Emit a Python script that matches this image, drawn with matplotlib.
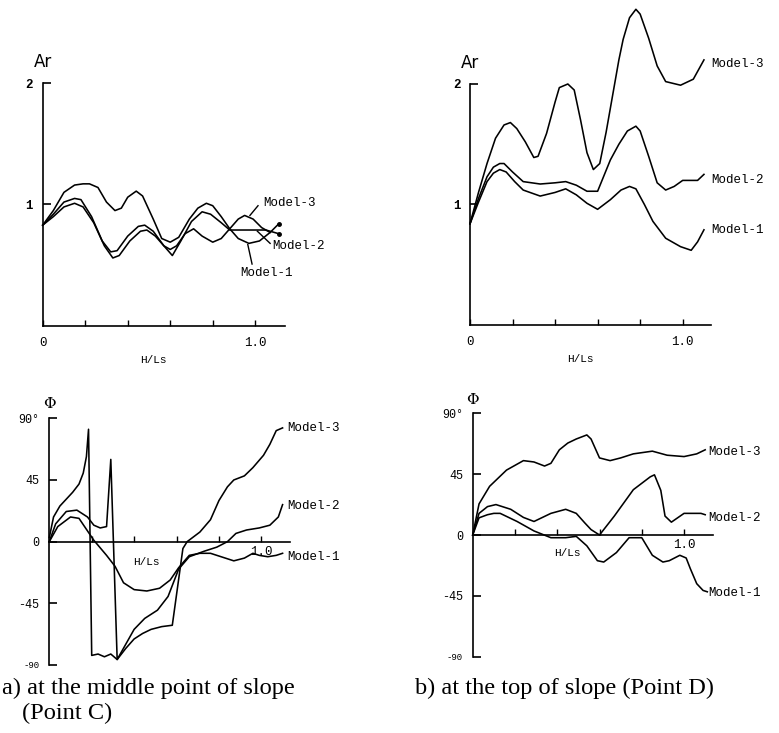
import matplotlib
matplotlib.use("Agg")
import matplotlib.pyplot as plt

W, H = 779, 733
fig = plt.figure(figsize=(W / 100, H / 100), dpi=100)
fig.patch.set_facecolor("white")

MONO = "Liberation Mono"
SERIF = "Liberation Serif"

# ---------------- data ----------------
# a) amplitude ratio, middle point of slope (Point C)
ac_m3_x = [0, 0.05, 0.10, 0.15, 0.19, 0.22, 0.26, 0.30, 0.34, 0.37, 0.40, 0.44, 0.47, 0.52, 0.56, 0.60, 0.64, 0.69, 0.73, 0.77, 0.80, 0.84, 0.88, 0.92, 0.97, 1.02, 1.07, 1.11]
ac_m3_y = [0.83, 0.95, 1.10, 1.16, 1.17, 1.17, 1.14, 1.02, 0.95, 0.97, 1.06, 1.11, 1.07, 0.88, 0.72, 0.69, 0.73, 0.88, 0.97, 1.01, 0.99, 0.90, 0.80, 0.72, 0.68, 0.70, 0.77, 0.84]
ac_m2_x = [0, 0.05, 0.10, 0.15, 0.18, 0.23, 0.28, 0.32, 0.35, 0.40, 0.45, 0.48, 0.52, 0.57, 0.61, 0.65, 0.70, 0.75, 0.79, 0.84, 0.88, 0.95, 1.05, 1.11]
ac_m2_y = [0.83, 0.92, 1.02, 1.05, 1.04, 0.90, 0.70, 0.61, 0.62, 0.74, 0.82, 0.83, 0.78, 0.66, 0.58, 0.70, 0.86, 0.94, 0.92, 0.85, 0.79, 0.79, 0.79, 0.76]
ac_m1_x = [0, 0.05, 0.10, 0.15, 0.19, 0.24, 0.29, 0.33, 0.36, 0.41, 0.46, 0.49, 0.53, 0.57, 0.60, 0.63, 0.67, 0.71, 0.75, 0.80, 0.84, 0.88, 0.92, 0.95, 0.99, 1.03, 1.07]
ac_m1_y = [0.83, 0.90, 0.98, 1.01, 0.98, 0.85, 0.66, 0.56, 0.58, 0.70, 0.78, 0.79, 0.74, 0.66, 0.63, 0.66, 0.76, 0.80, 0.74, 0.69, 0.72, 0.80, 0.88, 0.91, 0.88, 0.81, 0.77]

# b) amplitude ratio, top of slope (Point D)
ad_m3_x = [0, 0.04, 0.08, 0.12, 0.16, 0.19, 0.22, 0.26, 0.30, 0.32, 0.36, 0.40, 0.42, 0.46, 0.49, 0.52, 0.55, 0.58, 0.61, 0.64, 0.67, 0.70, 0.72, 0.75, 0.78, 0.80, 0.84, 0.88, 0.92, 0.99, 1.05, 1.10]
ad_m3_y = [0.84, 1.10, 1.34, 1.55, 1.66, 1.68, 1.63, 1.52, 1.39, 1.40, 1.59, 1.85, 1.97, 2.00, 1.95, 1.70, 1.43, 1.29, 1.34, 1.60, 1.90, 2.20, 2.37, 2.55, 2.62, 2.58, 2.38, 2.15, 2.02, 1.99, 2.04, 2.20]
ad_m2_x = [0, 0.04, 0.08, 0.11, 0.14, 0.16, 0.20, 0.25, 0.33, 0.40, 0.45, 0.50, 0.55, 0.60, 0.66, 0.70, 0.74, 0.78, 0.80, 0.84, 0.88, 0.92, 0.96, 1.00, 1.07, 1.10]
ad_m2_y = [0.84, 1.05, 1.23, 1.31, 1.34, 1.34, 1.27, 1.19, 1.17, 1.18, 1.19, 1.16, 1.11, 1.11, 1.37, 1.50, 1.61, 1.65, 1.61, 1.40, 1.18, 1.12, 1.15, 1.20, 1.20, 1.25]
ad_m1_x = [0, 0.04, 0.08, 0.11, 0.14, 0.17, 0.21, 0.25, 0.33, 0.40, 0.45, 0.50, 0.55, 0.60, 0.66, 0.71, 0.75, 0.78, 0.82, 0.86, 0.92, 0.99, 1.04, 1.07, 1.10]
ad_m1_y = [0.84, 1.02, 1.19, 1.26, 1.29, 1.27, 1.19, 1.12, 1.07, 1.10, 1.13, 1.08, 1.01, 0.96, 1.04, 1.12, 1.15, 1.13, 1.00, 0.86, 0.72, 0.65, 0.62, 0.69, 0.79]

# a) phase, middle point of slope (Point C)
pc_m3_x = [0, 0.02, 0.05, 0.08, 0.11, 0.14, 0.16, 0.175, 0.185, 0.20, 0.23, 0.26, 0.29, 0.32, 0.36, 0.40, 0.44, 0.48, 0.53, 0.58, 0.63, 0.65, 0.71, 0.76, 0.80, 0.84, 0.87, 0.92, 0.96, 1.01, 1.04, 1.07, 1.10]
pc_m3_y = [3, 18, 26, 31, 36, 42, 50, 62, 82, -83, -82, -84, -82, -86, -78, -71, -67, -64, -62, -61, -5, 0, 7, 16, 30, 40, 45, 48, 54, 63, 71, 81, 83]
pc_m2_x = [0, 0.03, 0.08, 0.13, 0.18, 0.21, 0.24, 0.27, 0.29, 0.32, 0.36, 0.40, 0.45, 0.51, 0.56, 0.61, 0.66, 0.73, 0.79, 0.84, 0.88, 0.93, 0.99, 1.04, 1.08, 1.10]
pc_m2_y = [0, 13, 22, 23, 18, 12, 10, 11, 60, -86, -75, -64, -56, -50, -40, -20, -11, -7, -4, 0, 6, 8.5, 10, 12, 18, 27]
pc_m1_x = [0, 0.04, 0.10, 0.14, 0.21, 0.27, 0.31, 0.35, 0.40, 0.46, 0.52, 0.57, 0.61, 0.66, 0.71, 0.76, 0.81, 0.87, 0.92, 0.96, 0.99, 1.03, 1.07, 1.10]
pc_m1_y = [0, 11, 18, 17, 1, -10, -18, -30, -35, -36, -34, -28, -19, -10, -8.5, -8.5, -11, -14, -12, -8.5, -10, -11, -10, -8.5]

# b) phase, top of slope (Point D)
pd_m3_x = [0, 0.03, 0.08, 0.16, 0.24, 0.29, 0.34, 0.37, 0.41, 0.45, 0.49, 0.54, 0.56, 0.60, 0.65, 0.70, 0.76, 0.85, 0.92, 1.00, 1.06, 1.10]
pd_m3_y = [0, 23, 36, 48, 55, 54, 51, 53, 63, 68, 71, 74, 71, 57, 55, 57, 60, 62, 59, 58, 60, 63]
pd_m2_x = [0, 0.03, 0.07, 0.11, 0.18, 0.24, 0.29, 0.37, 0.44, 0.49, 0.53, 0.56, 0.60, 0.67, 0.76, 0.84, 0.86, 0.89, 0.91, 0.94, 1.00, 1.08, 1.10]
pd_m2_y = [0, 16, 21, 22.5, 19, 13, 10, 16, 19, 16, 9, 4, 0, 14, 33.5, 43, 44.5, 33, 14, 9.5, 16, 16, 15]
pd_m1_x = [0, 0.03, 0.07, 0.10, 0.13, 0.21, 0.29, 0.37, 0.44, 0.49, 0.54, 0.59, 0.62, 0.68, 0.74, 0.80, 0.85, 0.90, 0.93, 0.98, 1.01, 1.03, 1.06, 1.09, 1.11]
pd_m1_y = [0, 12.7, 15, 16, 16, 10, 3, -2, -2, -1, -8, -19, -20, -13, -2, -2, -15, -20, -19, -15, -17, -25, -36, -41, -42]

labels = ["Model-3", "Model-2", "Model-1"]
amp_ticks = [1, 2]
phase_ticks = [-90, -45, 0, 45, 90]
phase_ticklabels = ["-90", "-45", "0", "45", "90\u00b0"]
x_ticks = [0, 0.2, 0.4, 0.6, 0.8, 1.0]
x_ticklabels = ["0", "", "", "", "", "1.0"]


def make_axes(left, right, bottom, top, xmax, ylim):
    ax = fig.add_axes([left / W, 1 - bottom / H, (right - left) / W, (bottom - top) / H])
    ax.set_xlim(0, xmax)
    ax.set_ylim(*ylim)
    ax.patch.set_alpha(0)
    for s in ("top", "right"):
        ax.spines[s].set_visible(False)
    for s in ("left", "bottom"):
        ax.spines[s].set_linewidth(1.2)
    return ax


def draw(ax, xs, ys):
    ax.plot(xs, ys, color="black", lw=1.15, clip_on=False, solid_joinstyle="round")


# ---------- top-left: amplitude, Point C ----------
ax1 = make_axes(42.7, 285, 326, 83, 1.14, (0, 2))
for xs, ys in [(ac_m3_x, ac_m3_y), (ac_m2_x, ac_m2_y), (ac_m1_x, ac_m1_y)]:
    draw(ax1, xs, ys)
ax1.plot([ac_m3_x[-1]], [ac_m3_y[-1]], "o", color="black", ms=2.5, clip_on=False)
ax1.plot([ac_m2_x[-1]], [ac_m2_y[-1]], "o", color="black", ms=2.5, clip_on=False)

# ---------- top-right: amplitude, Point D ----------
ax2 = make_axes(470, 711.4, 325, 84, 1.135, (0, 2))
for xs, ys in [(ad_m3_x, ad_m3_y), (ad_m2_x, ad_m2_y), (ad_m1_x, ad_m1_y)]:
    draw(ax2, xs, ys)

# ---------- bottom-left: phase, Point C ----------
ax3 = make_axes(49.3, 290, 665, 418.3, 1.135, (-90, 90))
for xs, ys in [(pc_m3_x, pc_m3_y), (pc_m2_x, pc_m2_y), (pc_m1_x, pc_m1_y)]:
    draw(ax3, xs, ys)

# ---------- bottom-right: phase, Point D ----------
ax4 = make_axes(472.7, 713, 656.7, 413.3, 1.137, (-90, 90))
for xs, ys in [(pd_m3_x, pd_m3_y), (pd_m2_x, pd_m2_y), (pd_m1_x, pd_m1_y)]:
    draw(ax4, xs, ys)

# ---------- axes styling ----------
for ax in (ax1, ax2):
    ax.set_xticks(x_ticks)
    ax.set_xticklabels(x_ticklabels, fontfamily=MONO, fontsize=9)
    ax.set_yticks(amp_ticks)
    ax.set_yticklabels([str(t) for t in amp_ticks], fontfamily=MONO, fontsize=9, fontweight="bold")
    ax.tick_params(axis="x", direction="in", length=4, width=1, pad=8)
    ax.tick_params(axis="y", direction="in", length=6, width=1.2, pad=7)
    ax.text(0.52, -0.14, "H/Ls", transform=ax.get_xaxis_transform(), ha="center", va="center",
            fontfamily=MONO, fontsize=8)
    ax.text(0.0, 2.1, "Ar", ha="center", va="bottom", fontfamily="DejaVu Sans", fontsize=12)

for ax in (ax3, ax4):
    ax.spines["bottom"].set_position(("data", 0))
    ax.set_xticks(x_ticks[1:])
    ax.set_xticklabels(x_ticklabels[1:], fontfamily=MONO, fontsize=9)
    ax.set_yticks(phase_ticks)
    ax.set_yticklabels(phase_ticklabels, fontfamily=MONO, fontsize=8.5)
    ax.get_yticklabels()[0].set_fontsize(6.5)
    ax.tick_params(axis="x", direction="in", length=4, width=1, pad=3)
    ax.tick_params(axis="y", direction="in", length=6, width=1.2, pad=7)
    ax.text(0.0, 95, "\u03a6", ha="center", va="bottom", fontfamily="DejaVu Serif", fontsize=11)

ax3.text(0.46, -15, "H/Ls", ha="center", va="center", fontfamily=MONO, fontsize=8)
ax4.text(0.45, -13, "H/Ls", ha="center", va="center", fontfamily=MONO, fontsize=8)

# ---------- model labels ----------
lab_kw = dict(fontfamily=MONO, fontsize=9, va="center", ha="left")
# top-left
ax1.text(1.037, 1.01, labels[0], **lab_kw)
ax1.plot([1.013, 0.975], [0.99, 0.91], color="black", lw=1, clip_on=False)
ax1.text(1.079, 0.66, labels[1], **lab_kw)
ax1.plot([1.07, 1.01], [0.68, 0.78], color="black", lw=1, clip_on=False)
ax1.text(0.93, 0.44, labels[2], **lab_kw)
ax1.plot([0.985, 0.965], [0.51, 0.67], color="black", lw=1, clip_on=False)
# top-right
ax2.text(1.135, 2.17, labels[0], **lab_kw)
ax2.text(1.135, 1.20, labels[1], **lab_kw)
ax2.text(1.135, 0.79, labels[2], **lab_kw)
# bottom-left
ax3.text(1.12, 83, labels[0], **lab_kw)
ax3.text(1.12, 26, labels[1], **lab_kw)
ax3.text(1.12, -11, labels[2], **lab_kw)
# bottom-right
ax4.text(1.113, 61.6, labels[0], **lab_kw)
ax4.text(1.113, 12.6, labels[1], **lab_kw)
ax4.text(1.113, -43, labels[2], **lab_kw)

# ---------- captions ----------
cap_kw = dict(fontfamily=SERIF, fontsize=17.6, ha="left", va="center")
fig.text(2 / W, 1 - 688 / H, "a) at the middle point of slope", **cap_kw)
fig.text(22 / W, 1 - 713 / H, "(Point C)", **cap_kw)
fig.text(415 / W, 1 - 688 / H, "b) at the top of slope (Point D)", **cap_kw)

fig.savefig("out.png", dpi=100, facecolor="white")
